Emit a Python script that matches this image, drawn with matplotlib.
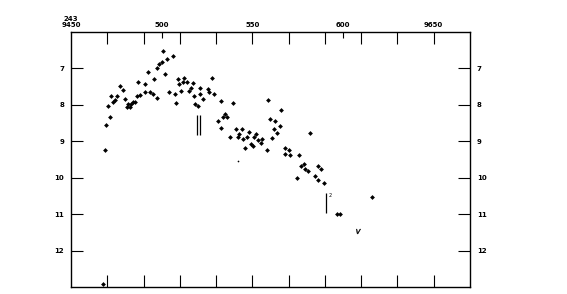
import matplotlib
matplotlib.use("Agg")
import matplotlib.pyplot as plt

# Julian date (2430000+) and visual magnitude
jd = [9468.9, 9469.2, 9470.3, 9471.4, 9472.2, 9473.1, 9474.0, 9475.3, 9476.8, 9478.6,
      9479.7, 9480.8, 9481.7, 9482.7, 9483.2, 9484.3, 9485.4, 9486.5, 9487.2, 9488.3,
      9490.9, 9490.9, 9492.4, 9493.7, 9495.1, 9495.9, 9497.3, 9497.3, 9498.4, 9500.1,
      9500.6, 9502.1, 9502.8, 9504.3, 9506.1, 9507.2, 9507.7, 9508.8, 9509.3, 9510.9,
      9511.7, 9512.4, 9513.7, 9515.0, 9516.1, 9517.2, 9517.7, 9518.3, 9519.8, 9520.9,
      9521.4, 9522.7, 9525.5, 9526.2, 9527.7, 9529.1, 9531.0, 9532.8, 9532.6, 9533.7,
      9535.0, 9536.0, 9537.4, 9539.2, 9541.1, 9542.0, 9542.9, 9544.2, 9544.8, 9546.0,
      9547.0, 9548.0, 9549.2, 9550.3, 9551.0, 9552.2, 9553.2, 9554.5, 9555.3, 9558.0,
      9558.6, 9559.7, 9560.8, 9561.9, 9562.5, 9563.8, 9565.2, 9566.0, 9568.1, 9568.0,
      9570.3, 9570.8, 9575.6, 9574.7, 9577.0, 9578.3, 9579.2, 9580.6, 9581.8, 9584.4,
      9586.1, 9587.8, 9586.1, 9589.4, 9596.7, 9598.4, 9615.9, 9467.4]
mag = [9.23, 8.55, 8.04, 8.33, 7.76, 7.91, 7.86, 7.75, 7.49, 7.60,
       7.83, 8.07, 7.99, 8.06, 7.99, 7.91, 7.91, 7.75, 7.38, 7.73,
       7.66, 7.42, 7.10, 7.66, 7.71, 7.29, 7.82, 6.98, 6.88, 6.81,
       6.51, 7.15, 6.73, 7.65, 6.65, 7.70, 7.94, 7.29, 7.42, 7.61,
       7.38, 7.27, 7.38, 7.63, 7.53, 7.40, 7.77, 7.99, 8.02, 7.55,
       7.70, 7.83, 7.57, 7.66, 7.25, 7.71, 8.44, 7.89, 8.63, 8.33,
       8.24, 8.33, 8.88, 7.95, 8.66, 8.88, 8.79, 8.66, 8.95, 9.18,
       8.88, 8.74, 9.07, 9.12, 8.88, 8.81, 8.96, 9.04, 8.93, 9.23,
       7.86, 8.38, 8.90, 8.66, 8.44, 8.77, 8.57, 8.13, 9.18, 9.35,
       9.23, 9.37, 9.37, 10.01, 9.68, 9.62, 9.76, 9.81, 8.77, 9.95,
       9.69, 9.75, 10.06, 10.14, 11.00, 11.00, 10.52, 12.93]

# faint observation and "V" (visual) point
faint_jd = [9542.0]
faint_mag = [9.55]
v_jd = [9608.2]
v_mag = [11.46]

# vertical bars (jd, mag_top, mag_bottom)
bar_jd = [9519.3, 9521.0, 9590.6]
bar_top = [8.29, 8.29, 10.42]
bar_bot = [8.84, 8.84, 10.97]

x_lo, x_hi = 9450, 9670
y_lo, y_hi = 6.0, 13.0
top_label_pos = [9450, 9500, 9550, 9600, 9650]
top_labels = ["243\n9450", "500", "550", "600", "9650"]
major_x = list(range(9470, 9651, 20))
y_ticks = [7, 8, 9, 10, 11, 12]

fig = plt.figure(figsize=(5.67, 2.94), dpi=100)
ax = fig.add_axes([71/567, 1-287/294, (470-71)/567, (287-32)/294])

ax.scatter(jd, mag, s=6, marker="D", color="black", linewidths=0)
ax.scatter(faint_jd, faint_mag, s=1.5, marker="o", color="black", linewidths=0)
ax.scatter(v_jd, v_mag, s=12, marker="$V$", color="black", linewidths=0.3)
ax.vlines(bar_jd, bar_top, bar_bot, color="black", linewidth=0.9)
ax.text(9591.8, 10.5, "2", fontsize=3.5, color="black", ha="left", va="center")

ax.set_xlim(x_lo, x_hi)
ax.set_ylim(y_hi, y_lo)

for s in ax.spines.values():
    s.set_linewidth(1.0)

ax.set_xticks(major_x)
ax.set_xticks([9500, 9600], minor=True)
ax.tick_params(axis="x", which="major", top=True, bottom=True, direction="in",
               length=8.5, width=0.8, labelbottom=False, labeltop=False)
ax.tick_params(axis="x", which="minor", top=True, bottom=False, direction="in",
               length=4.5, width=0.8)

ax.set_yticks(y_ticks)
ax.set_yticklabels([str(v) for v in y_ticks])
ax.tick_params(axis="y", which="both", left=True, right=True, direction="in",
               length=8.5, width=0.8, labelleft=True, labelright=True,
               labelsize=5, pad=5)
ax.yaxis.set_minor_locator(matplotlib.ticker.NullLocator())
for lab in ax.get_yticklabels():
    lab.set_fontweight("bold")

sec = ax.secondary_xaxis("top")
sec.set_xticks(top_label_pos)
sec.set_xticklabels(top_labels, fontsize=5, fontweight="bold", linespacing=0.9)
sec.tick_params(axis="x", length=0, pad=3)
sec.spines["top"].set_visible(False)

fig.savefig("out.png", dpi=100, facecolor="white")
